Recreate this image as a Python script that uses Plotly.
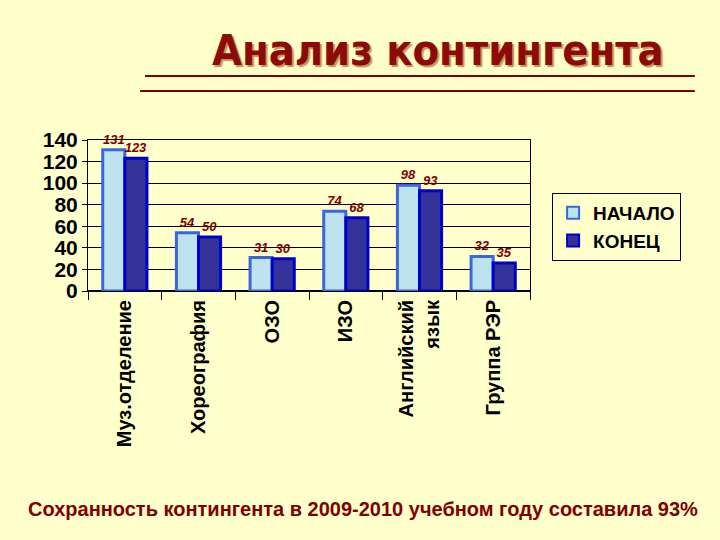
import plotly.graph_objects as go

categories = ["Муз.отделение", "Хореография", "ОЗО", "ИЗО", "Английский<br>язык", "Группа РЭР"]
start_values = [131, 54, 31, 74, 98, 32]
end_values = [123, 50, 30, 68, 93, 26]
start_labels = ["131", "54", "31", "74", "98", "32"]
end_labels = ["123", "50", "30", "68", "93", "35"]
y_ticks = [0, 20, 40, 60, 80, 100, 120, 140]

BG = "#FFFFCC"
DARKRED = "#800000"
LBL_FONT = dict(family="Liberation Sans, Arial", size=13, color=DARKRED, style="italic", weight="bold")

fig = go.Figure()
fig.add_trace(go.Bar(
    name="НАЧАЛО", x=categories, y=start_values,
    text=start_labels, textposition="outside", cliponaxis=False, constraintext="none",
    textfont=LBL_FONT,
    marker=dict(color="#BFE3EE", line=dict(color="#3A66DD", width=3)),
))
fig.add_trace(go.Bar(
    name="КОНЕЦ", x=categories, y=end_values,
    text=end_labels, textposition="outside", cliponaxis=False, constraintext="none",
    textfont=LBL_FONT,
    marker=dict(color="#333399", line=dict(color="#0000CC", width=3)),
))

fig.update_layout(
    width=720, height=540,
    paper_bgcolor=BG, plot_bgcolor=BG,
    margin=dict(l=88, r=190, t=140, b=249, pad=0),
    barmode="group", bargap=0.4, bargroupgap=0,
    font=dict(family="Liberation Sans, Arial", color="black"),
    legend=dict(
        x=1.05, y=0.65, xanchor="left", yanchor="top",
        bgcolor=BG, bordercolor="black", borderwidth=1,
        font=dict(size=19, weight="bold", family="Liberation Sans, Arial"),
        itemsizing="constant", itemwidth=30,
    ),
    showlegend=True,
)
fig.update_yaxes(
    range=[0, 140], tickvals=y_ticks, showgrid=True, gridcolor="black", gridwidth=1,
    showline=True, linecolor="black", linewidth=1, mirror=True,
    ticks="outside", ticklen=5, tickcolor="black",
    tickfont=dict(size=21, weight="bold", family="Liberation Sans, Arial"),
    zeroline=True, zerolinecolor="black",
)
fig.update_xaxes(
    tickangle=-90, tickson="boundaries", ticks="outside", ticklen=8, tickcolor="black",
    showline=True, linecolor="black", linewidth=1, mirror=True,
    tickfont=dict(size=20, weight="bold", family="Liberation Sans, Arial"),
)

# Title
fig.add_annotation(
    text="Анализ контингента", xref="paper", yref="paper", x=0.792, y=1.596,
    showarrow=False, xanchor="center", yanchor="middle",
    font=dict(family="DejaVu Sans Condensed, DejaVu Sans", size=43, color="#8B0A0A",
              weight="bold", shadow="2px 2px 1px #C8925A"),
)
# Underlines
fig.add_shape(type="line", xref="paper", yref="paper", x0=0.129, x1=1.373, y0=1.424, y1=1.424,
              line=dict(color="#7A0000", width=2))
fig.add_shape(type="line", xref="paper", yref="paper", x0=0.118, x1=1.373, y0=1.325, y1=1.325,
              line=dict(color="#7A0000", width=2))
# Footer
fig.add_annotation(
    text="Сохранность контингента в 2009-2010 учебном году составила 93%",
    xref="paper", yref="paper", x=0.622, y=-1.444, showarrow=False,
    xanchor="center", yanchor="middle",
    font=dict(family="Liberation Sans, Arial", size=20, color=DARKRED, weight="bold"),
)

fig.write_html("out.html", config={"displayModeBar": False},
               post_script="document.body.style.margin='0';")
